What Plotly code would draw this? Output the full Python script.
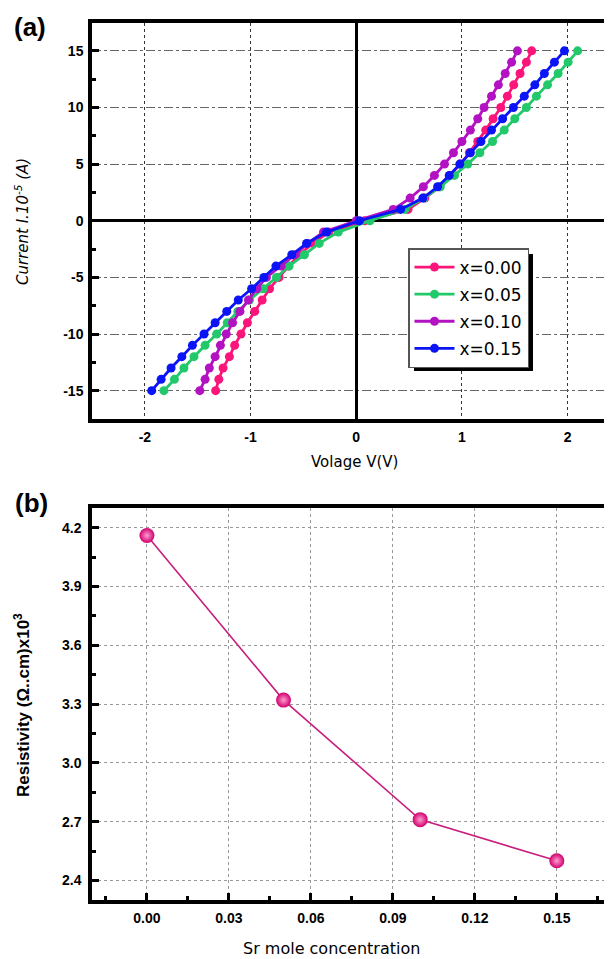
import plotly.graph_objects as go

# ---------------- data: panel (a) I-V curves ----------------
current = [-15, -14, -13, -12, -11, -10, -9, -8, -7, -6, -5, -4, -3, -2, -1, 0,
           1, 2, 3, 4, 5, 6, 7, 8, 9, 10, 11, 12, 13, 14, 15]

v_x000 = [-1.33, -1.30, -1.26, -1.20, -1.15, -1.09, -1.03, -0.96, -0.89, -0.82, -0.73,
          -0.64, -0.54, -0.41, -0.26, 0.08, 0.49, 0.65, 0.79, 0.89, 0.985, 1.07, 1.15,
          1.225, 1.295, 1.368, 1.43, 1.49, 1.55, 1.61, 1.66]
v_x005 = [-1.82, -1.72, -1.63, -1.535, -1.43, -1.32, -1.22, -1.12, -1.01, -0.88, -0.755,
          -0.635, -0.49, -0.35, -0.17, 0.13, 0.46, 0.64, 0.795, 0.93, 1.055, 1.17, 1.29,
          1.40, 1.50, 1.61, 1.705, 1.81, 1.91, 2.005, 2.095]
v_x010 = [-1.48, -1.43, -1.39, -1.335, -1.285, -1.23, -1.17, -1.10, -1.02, -0.94, -0.85,
          -0.71, -0.58, -0.46, -0.31, 0.0, 0.35, 0.51, 0.635, 0.74, 0.835, 0.92, 1.00,
          1.08, 1.15, 1.21, 1.28, 1.345, 1.41, 1.47, 1.525]
v_x015 = [-1.935, -1.846, -1.752, -1.65, -1.55, -1.44, -1.335, -1.225, -1.116, -0.99, -0.874,
          -0.76, -0.61, -0.47, -0.28, 0.03, 0.42, 0.63, 0.77, 0.88, 0.98, 1.08, 1.18,
          1.28, 1.385, 1.487, 1.59, 1.69, 1.78, 1.875, 1.97]

series_names = ["x=0.00", "x=0.05", "x=0.10", "x=0.15"]
series_colors = ["#fb1479", "#22c96b", "#b212c2", "#0a14f5"]

a_xtick_vals = [-2, -1, 0, 1, 2]
a_xtick_text = ["-2", "-1", "0", "1", "2"]
a_ytick_vals = [-15, -10, -5, 0, 5, 10, 15]
a_ytick_text = ["-15", "-10", "-5", "0", "5", "10", "15"]

# ---------------- data: panel (b) resistivity ----------------
sr_conc = [0.00, 0.05, 0.10, 0.15]
resistivity = [4.16, 3.32, 2.71, 2.50]

b_xtick_vals = [0.00, 0.03, 0.06, 0.09, 0.12, 0.15]
b_xtick_text = ["0.00", "0.03", "0.06", "0.09", "0.12", "0.15"]
b_ytick_vals = [2.4, 2.7, 3.0, 3.3, 3.6, 3.9, 4.2]
b_ytick_text = ["2.4", "2.7", "3.0", "3.3", "3.6", "3.9", "4.2"]

# ---------------- figure ----------------
# the page body has an 8px margin, so the figure is placed at (8, 8)
OFF = 8
W, H = 612 - OFF, 959 - OFF


def px_x(p):
    return (p - OFF) / W


def px_y(p):
    return 1 - (p - OFF) / H


fig = go.Figure()

for i, (v, name, col) in enumerate(zip([v_x000, v_x005, v_x010, v_x015], series_names, series_colors)):
    fig.add_trace(go.Scatter(
        x=v, y=current, name=name, mode="lines+markers", legendgroup="g%d" % i,
        line=dict(color=col, width=2.8),
        marker=dict(color=col, size=9),
        xaxis="x", yaxis="y"))

fig.add_trace(go.Scatter(
    x=sr_conc, y=resistivity, mode="lines+markers", showlegend=False,
    line=dict(color="#c81e7e", width=1.6),
    marker=dict(color="#d0006e", size=15,
                gradient=dict(type="radial", color="#ff9ccf")),
    xaxis="x2", yaxis="y2"))

tickfont = dict(family="Liberation Sans, Arial", size=14, color="black", weight="bold")
xdom = [px_x(92), 1.0]

fig.update_layout(
    width=W, height=H,
    margin=dict(l=0, r=0, t=0, b=0),
    paper_bgcolor="white", plot_bgcolor="white",
    xaxis=dict(domain=xdom, range=[-2.5, 2.42], anchor="y",
               tickvals=a_xtick_vals, ticktext=a_xtick_text, tickfont=tickfont,
               ticks="", ticklabelstandoff=2,
               showline=True, linecolor="black", linewidth=3.5, mirror=True,
               showgrid=True, gridcolor="#333", griddash="dot", gridwidth=1.4,
               zeroline=True, zerolinecolor="black", zerolinewidth=3.2),
    yaxis=dict(domain=[px_y(419), px_y(22.5)], range=[-17.5, 17.5], anchor="x",
               tickvals=a_ytick_vals, ticktext=a_ytick_text, tickfont=tickfont,
               ticks="inside", ticklen=7, tickwidth=3, tickcolor="black",
               ticklabelstandoff=2,
               minor=dict(ticks="inside", ticklen=4, tickwidth=3, tickcolor="black",
                          dtick=2.5, tick0=0, showgrid=False),
               showline=True, linecolor="black", linewidth=3.5, mirror=False,
               showgrid=True, gridcolor="#666", griddash="dashdot", gridwidth=1,
               zeroline=True, zerolinecolor="black", zerolinewidth=3.2),
    xaxis2=dict(domain=xdom, range=[-0.0201, 0.1702], anchor="y2",
                tickvals=b_xtick_vals, ticktext=b_xtick_text, tickfont=tickfont,
                ticks="inside", ticklen=7, tickwidth=3, tickcolor="black",
                ticklabelstandoff=2,
                minor=dict(ticks="inside", ticklen=4, tickwidth=3, tickcolor="black",
                           dtick=0.015, tick0=0, showgrid=False),
                showline=True, linecolor="black", linewidth=3.5, mirror=True,
                showgrid=True, gridcolor="#999", griddash="dot", gridwidth=1,
                zeroline=False),
    yaxis2=dict(domain=[px_y(900), px_y(508)], range=[2.3, 4.3], anchor="x2",
                tickvals=b_ytick_vals, ticktext=b_ytick_text, tickfont=tickfont,
                ticks="inside", ticklen=7, tickwidth=3, tickcolor="black",
                ticklabelstandoff=4,
                minor=dict(ticks="inside", ticklen=4, tickwidth=3, tickcolor="black",
                           dtick=0.15, tick0=2.25, showgrid=False),
                showline=True, linecolor="black", linewidth=3.5, mirror=False,
                showgrid=True, gridcolor="#999", griddash="dot", gridwidth=1,
                zeroline=False),
    legend=dict(x=px_x(408), y=px_y(248), xanchor="left", yanchor="top",
                bgcolor="white", bordercolor="#555", borderwidth=1.5,
                font=dict(family="DejaVu Sans", size=17, color="black"),
                itemwidth=40, tracegroupgap=2),
    showlegend=True,
)

# legend drop shadow
fig.add_shape(type="rect", xref="paper", yref="paper",
              x0=px_x(414), x1=px_x(533), y0=px_y(371), y1=px_y(254),
              fillcolor="black", line=dict(width=0), layer="above")

ann_font_comic = dict(family="DejaVu Sans", size=15, color="black")
fig.add_annotation(text="<b>(a)</b>", x=px_x(30), y=px_y(27), xref="paper", yref="paper",
                   showarrow=False, xanchor="center", yanchor="middle",
                   font=dict(family="Liberation Sans, Arial", size=26, color="black"))
fig.add_annotation(text="<b>(b)</b>", x=px_x(31), y=px_y(503), xref="paper", yref="paper",
                   showarrow=False, xanchor="center", yanchor="middle",
                   font=dict(family="Liberation Sans, Arial", size=26, color="black"))
fig.add_annotation(text="Volage V(V)", x=px_x(354), y=px_y(462), xref="paper", yref="paper",
                   showarrow=False, xanchor="center", yanchor="middle", font=ann_font_comic)
fig.add_annotation(text="Current I.10<sup>-5</sup> (A)", x=px_x(22), y=px_y(222),
                   xref="paper", yref="paper", textangle=-90,
                   showarrow=False, xanchor="center", yanchor="middle",
                   font=dict(family="DejaVu Sans", size=15, color="black", style="italic"))
fig.add_annotation(text="Sr mole concentration", x=px_x(331), y=px_y(948), xref="paper", yref="paper",
                   showarrow=False, xanchor="center", yanchor="middle",
                   font=dict(family="DejaVu Sans", size=16, color="black"))
fig.add_annotation(text="<b>Resistivity (Ω..cm)x10<sup>3</sup></b>", x=px_x(22), y=px_y(705),
                   xref="paper", yref="paper", textangle=-90,
                   showarrow=False, xanchor="center", yanchor="middle",
                   font=dict(family="Liberation Sans, Arial", size=17, color="black"))

fig.write_html("out.html")
